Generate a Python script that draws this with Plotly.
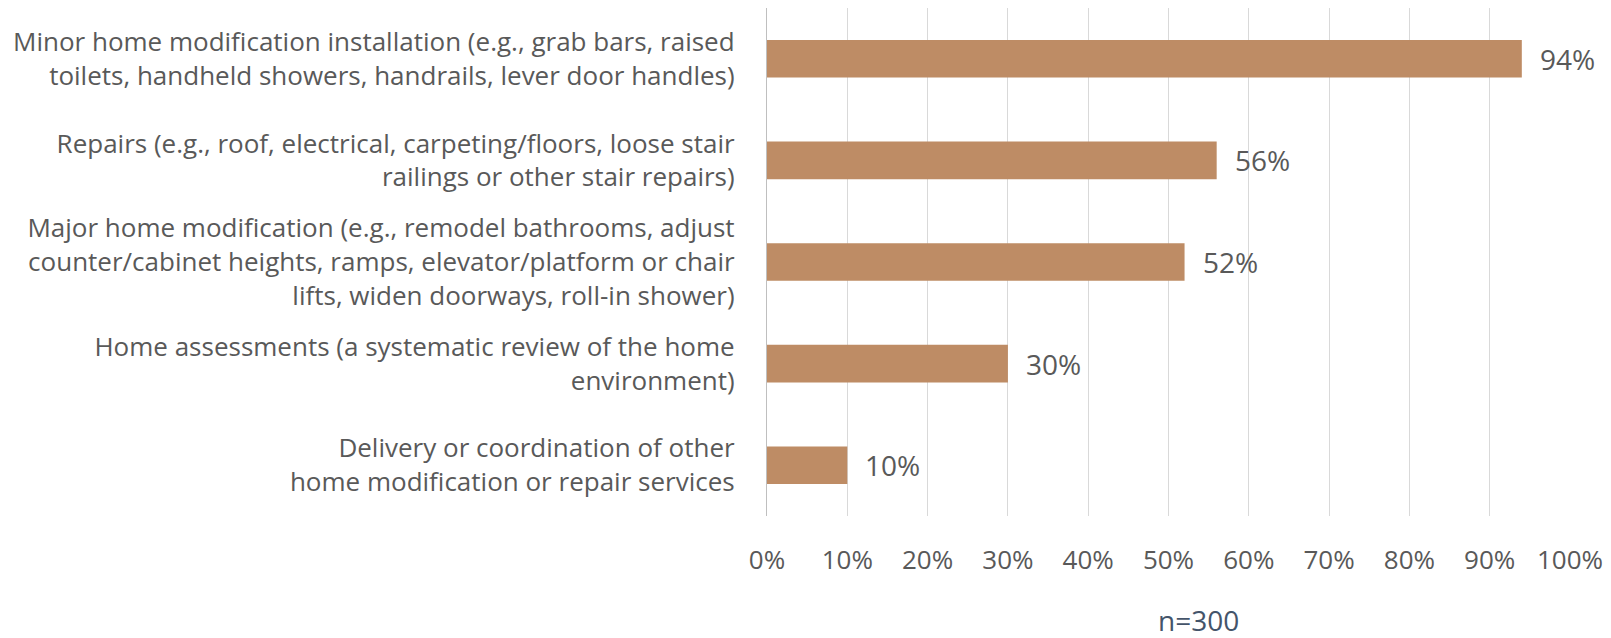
import plotly.graph_objects as go

categories = [
    "Minor home modification installation (e.g., grab bars, raised<br>toilets, handheld showers, handrails, lever door handles)",
    "Repairs (e.g., roof, electrical, carpeting/floors, loose stair<br>railings or other stair repairs)",
    "Major home modification (e.g., remodel bathrooms, adjust<br>counter/cabinet heights, ramps, elevator/platform or chair<br>lifts, widen doorways, roll-in shower)",
    "Home assessments (a systematic review of the home<br>environment)",
    "Delivery or coordination of other<br>home modification or repair services",
]
values = [94, 56, 52, 30, 10]
tick_vals = [0, 10, 20, 30, 40, 50, 60, 70, 80, 90, 100]
tick_text = ["0%", "10%", "20%", "30%", "40%", "50%", "60%", "70%", "80%", "90%", "100%"]
n_label = "n=300"

FONT = "Open Sans"
FS = 26
FS_VAL = 28
TXT = "#595959"

fig = go.Figure()
fig.add_trace(go.Bar(
    x=values, y=categories, orientation="h",
    marker=dict(color="#BE8C65", line=dict(width=0)),
    width=0.37, hoverinfo="skip",
))

for v, c in zip(values, categories):
    fig.add_annotation(x=v, y=c, xref="x", yref="y", text=f"{v}%",
                       showarrow=False, xanchor="left", xshift=16,
                       font=dict(family=FONT, size=FS_VAL, color=TXT))

fig.add_annotation(x=0.537, y=-0.205, xref="paper", yref="paper", text=n_label,
                   showarrow=False, xanchor="center", yanchor="middle",
                   font=dict(family=FONT, size=FS_VAL, color="#44546A"))

fig.update_layout(
    width=1603, height=630,
    margin=dict(l=759, r=41, t=0, b=122),
    paper_bgcolor="white", plot_bgcolor="white",
    showlegend=False,
    font=dict(family=FONT, size=FS, color=TXT),
    xaxis=dict(range=[0, 100], tickvals=tick_vals, ticktext=tick_text,
               showgrid=True, gridcolor="#D9D9D9", gridwidth=1.3,
               zeroline=False, showline=False, ticks="", automargin=False,
               ticklabelstandoff=26,
               tickfont=dict(family=FONT, size=FS, color=TXT)),
    yaxis=dict(categoryorder="array", categoryarray=categories[::-1],
               showgrid=False, zeroline=False, automargin=False,
               showline=True, linecolor="#BFBFBF", linewidth=1.3,
               ticks="", ticklabelstandoff=26,
               tickfont=dict(family=FONT, size=FS, color=TXT)),
)

fig.write_html("out.html")
